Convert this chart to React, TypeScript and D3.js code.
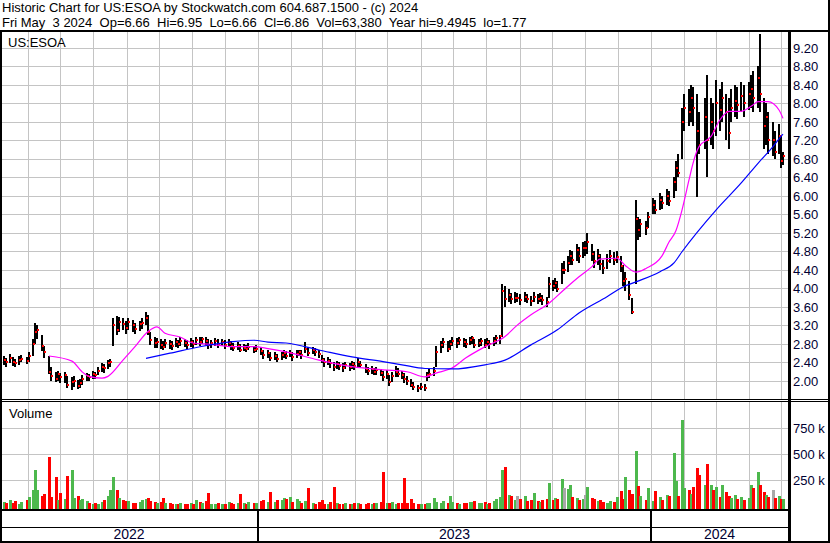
import * as d3 from 'd3';

// bars sampled every second trading day, oldest first (US:ESOA, May 2022 - May 2024)
const HIGH = [
  2.55, 2.5, 2.58, 2.52, 2.48, 2.55, 2.56, 2.52, 2.62, 2.9,
  3.25, 3.2, 3.0, 2.75, 2.55, 2.3, 2.2, 2.22, 2.18, 2.2,
  2.1, 2.08, 2.1, 2.02, 2.05, 2.12, 2.18, 2.16, 2.22, 2.2,
  2.3, 2.38, 2.36, 2.45, 2.48, 3.35, 3.4, 3.38, 3.35, 3.3,
  3.36, 3.32, 3.25, 3.3, 3.35, 3.5, 3.42, 3.05, 2.95, 2.92,
  2.9, 2.86, 2.9, 2.88, 2.86, 2.92, 2.88, 2.94, 2.9, 2.88,
  2.92, 2.88, 2.95, 2.94, 2.96, 2.94, 2.9, 2.88, 2.92, 2.9,
  2.9, 2.88, 2.9, 2.86, 2.82, 2.84, 2.8, 2.8, 2.78, 2.82,
  2.76, 2.78, 2.74, 2.66, 2.68, 2.62, 2.62, 2.58, 2.62, 2.66,
  2.64, 2.68, 2.62, 2.66, 2.68, 2.66, 2.85, 2.74, 2.74, 2.72,
  2.68, 2.56, 2.5, 2.52, 2.48, 2.42, 2.44, 2.42, 2.38, 2.42,
  2.38, 2.44, 2.4, 2.5, 2.44, 2.36, 2.3, 2.32, 2.28, 2.3,
  2.26, 2.22, 2.24, 2.12, 2.2, 2.32, 2.28, 2.22, 2.18, 2.1,
  2.04, 1.98, 1.92, 1.96, 1.94, 2.2, 2.26, 2.3, 2.75, 2.86,
  2.92, 2.86, 2.88, 2.95, 2.92, 2.95, 2.92, 2.9, 2.95, 2.98,
  2.9, 2.9, 2.92, 2.9, 2.92, 2.88, 2.94, 3.0, 3.0, 4.1,
  4.05, 3.98, 3.9, 3.92, 3.9, 3.88, 3.92, 3.88, 3.84, 3.92,
  3.88, 3.9, 3.86, 3.82, 4.25, 4.18, 4.22, 4.15, 4.55, 4.6,
  4.7, 4.83, 4.8, 4.95, 4.9, 5.0, 5.02, 5.2, 4.95, 4.8,
  4.85, 4.75, 4.62, 4.75, 4.82, 4.78, 4.8, 4.7, 4.5, 4.35,
  4.15, 3.8, 5.9, 5.55, 5.5, 5.45, 5.65, 5.95, 5.9, 6.05,
  6.0, 6.15, 6.1, 6.4, 6.75, 6.9, 7.9, 8.2, 8.3, 8.4,
  8.35, 8.2, 7.8, 8.1, 8.6, 8.1, 8.0, 8.5, 8.3, 8.45,
  8.2, 8.1, 8.3, 8.4, 8.35, 8.45, 8.4, 8.45, 8.6, 8.7,
  8.8, 9.49, 8.1, 8.0, 7.8, 7.6, 7.4, 7.55, 7.3, 6.95,
];

const LOW = [
  2.35, 2.3, 2.38, 2.32, 2.3, 2.35, 2.4, 2.36, 2.42, 2.55,
  2.8, 2.9, 2.65, 2.5, 2.15, 2.0, 1.98, 2.0, 1.95, 1.95,
  1.85, 1.8, 1.88, 1.82, 1.85, 1.92, 2.0, 2.0, 2.05, 2.05,
  2.12, 2.2, 2.18, 2.25, 2.3, 2.75, 3.0, 3.05, 3.1, 3.02,
  3.1, 3.05, 3.02, 3.08, 3.12, 3.2, 3.0, 2.78, 2.72, 2.72,
  2.7, 2.66, 2.72, 2.7, 2.68, 2.74, 2.72, 2.76, 2.74, 2.7,
  2.74, 2.72, 2.78, 2.76, 2.8, 2.78, 2.7, 2.72, 2.76, 2.72,
  2.76, 2.7, 2.74, 2.68, 2.64, 2.66, 2.62, 2.64, 2.62, 2.66,
  2.6, 2.62, 2.56, 2.48, 2.5, 2.44, 2.46, 2.4, 2.46, 2.5,
  2.48, 2.52, 2.44, 2.5, 2.54, 2.48, 2.6, 2.55, 2.58, 2.55,
  2.5, 2.38, 2.3, 2.34, 2.28, 2.22, 2.26, 2.24, 2.2, 2.26,
  2.22, 2.26, 2.24, 2.3, 2.28, 2.18, 2.14, 2.16, 2.12, 2.14,
  2.1, 2.0, 2.05, 1.9, 1.98, 2.08, 2.08, 2.04, 1.96, 1.92,
  1.86, 1.8, 1.77, 1.8, 1.78, 2.0, 2.06, 2.1, 2.3, 2.6,
  2.72, 2.62, 2.68, 2.76, 2.72, 2.78, 2.74, 2.72, 2.78, 2.8,
  2.72, 2.74, 2.76, 2.72, 2.76, 2.7, 2.76, 2.8, 2.8, 2.95,
  3.6, 3.7, 3.66, 3.68, 3.7, 3.64, 3.7, 3.68, 3.62, 3.7,
  3.66, 3.7, 3.64, 3.6, 3.8, 3.95, 3.98, 3.92, 4.1, 4.3,
  4.35, 4.5, 4.5, 4.6, 4.55, 4.65, 4.7, 4.75, 4.6, 4.45,
  4.5, 4.4, 4.3, 4.42, 4.55, 4.5, 4.55, 4.35, 4.05, 3.95,
  3.75, 3.45, 4.1, 5.05, 5.1, 5.15, 5.3, 5.6, 5.6, 5.7,
  5.72, 5.8, 5.78, 5.95, 6.1, 6.4, 6.8, 7.4, 7.5, 7.6,
  7.5, 5.97, 6.9, 7.0, 6.4, 7.1, 7.0, 7.3, 7.4, 7.6,
  7.2, 7.0, 7.6, 7.7, 7.65, 7.8, 7.7, 7.85, 7.9, 7.8,
  7.9, 7.8, 7.0, 7.1, 6.9, 6.85, 6.8, 6.9, 6.6, 6.66,
];

const CLOSE = [
  2.45, 2.4, 2.5, 2.42, 2.38, 2.45, 2.48, 2.44, 2.55, 2.8,
  3.05, 3.1, 2.75, 2.62, 2.2, 2.1, 2.05, 2.15, 2.08, 2.12,
  1.92, 1.98, 2.0, 1.9, 1.95, 2.05, 2.1, 2.08, 2.15, 2.12,
  2.22, 2.3, 2.28, 2.38, 2.42, 3.2, 3.1, 3.28, 3.22, 3.15,
  3.28, 3.2, 3.12, 3.22, 3.25, 3.35, 3.05, 2.88, 2.82, 2.85,
  2.78, 2.74, 2.82, 2.8, 2.76, 2.84, 2.8, 2.86, 2.82, 2.78,
  2.84, 2.8, 2.88, 2.84, 2.9, 2.86, 2.78, 2.82, 2.86, 2.8,
  2.84, 2.78, 2.82, 2.76, 2.72, 2.76, 2.68, 2.72, 2.7, 2.74,
  2.66, 2.7, 2.64, 2.56, 2.6, 2.5, 2.54, 2.48, 2.56, 2.6,
  2.55, 2.6, 2.52, 2.58, 2.62, 2.56, 2.7, 2.6, 2.66, 2.62,
  2.58, 2.45, 2.4, 2.44, 2.38, 2.3, 2.36, 2.32, 2.28, 2.34,
  2.3, 2.36, 2.32, 2.4, 2.34, 2.26, 2.22, 2.25, 2.2, 2.24,
  2.18, 2.08, 2.15, 1.98, 2.1, 2.2, 2.16, 2.12, 2.05, 2.0,
  1.92, 1.86, 1.85, 1.88, 1.84, 2.12, 2.16, 2.22, 2.62, 2.78,
  2.84, 2.7, 2.8, 2.86, 2.82, 2.88, 2.84, 2.8, 2.88, 2.92,
  2.78, 2.82, 2.86, 2.78, 2.84, 2.8, 2.86, 2.92, 2.98, 3.95,
  3.78, 3.85, 3.76, 3.8, 3.8, 3.74, 3.82, 3.78, 3.72, 3.82,
  3.76, 3.8, 3.74, 3.7, 4.1, 4.05, 4.12, 3.98, 4.4, 4.4,
  4.55, 4.7, 4.62, 4.82, 4.7, 4.88, 4.88, 5.0, 4.75, 4.6,
  4.7, 4.52, 4.45, 4.6, 4.7, 4.62, 4.68, 4.48, 4.15, 4.2,
  3.85, 3.5, 5.5, 5.25, 5.4, 5.3, 5.55, 5.8, 5.7, 5.9,
  5.85, 6.0, 5.88, 6.3, 6.6, 6.5, 7.6, 7.9, 7.8, 8.1,
  7.9, 7.4, 7.1, 7.7, 7.2, 7.6, 7.4, 8.0, 7.85, 8.1,
  7.8, 7.35, 7.9, 8.05, 7.95, 8.15, 8.0, 8.2, 8.3, 8.1,
  8.55, 8.2, 7.5, 7.7, 7.2, 7.2, 6.95, 7.3, 6.75, 6.86,
];

// thousands of shares
const VOLUME = [
  40, 30, 55, 25, 45, 20, 35, 60, 90, 150,
  346, 154, 100, 120, 474, 90, 282, 60, 125, 70,
  288, 346, 80, 95, 60, 70, 45, 30, 20, 25,
  20, 40, 55, 100, 150, 282, 154, 80, 60, 45,
  50, 30, 25, 35, 60, 70, 80, 50, 35, 30,
  40, 75, 30, 25, 20, 15, 20, 30, 15, 20,
  25, 20, 60, 40, 30, 50, 128, 20, 15, 30,
  20, 15, 40, 25, 20, 30, 117, 25, 20, 40,
  25, 30, 50, 60, 35, 138, 40, 55, 60, 80,
  70, 85, 40, 65, 50, 30, 45, 176, 25, 20,
  35, 60, 20, 15, 40, 186, 30, 20, 15, 25,
  20, 15, 25, 30, 20, 15, 25, 20, 30, 25,
  35, 330, 30, 25, 35, 20, 30, 25, 272, 30,
  70, 25, 20, 15, 20, 25, 30, 75, 40, 30,
  50, 30, 100, 40, 25, 20, 30, 25, 40, 35,
  45, 30, 25, 40, 20, 30, 50, 70, 90, 346,
  378, 104, 100, 60, 100, 70, 100, 45, 60, 128,
  50, 40, 60, 70, 221, 60, 80, 70, 260, 175,
  160, 200, 90, 80, 60, 70, 110, 180, 80, 70,
  50, 60, 40, 30, 50, 40, 90, 140, 70, 282,
  150, 120, 532, 195, 100, 60, 173, 50, 140, 90,
  60, 110, 100, 506, 240, 100, 827, 170, 150, 120,
  180, 368, 296, 205, 404, 200, 150, 180, 90, 200,
  130, 100, 80, 110, 70, 90, 60, 80, 200, 170,
  324, 200, 135, 110, 90, 150, 80, 100, 70, 63,
];

// moving averages: [bar index, value]
const FAST_MA: [number, number][] = [
  [14, 2.54], [21, 2.43], [25, 2.2], [27, 2.1], [31, 2.06], [33, 2.1], [38, 2.45],
  [42, 2.74], [46, 3.07], [49, 3.17], [52, 3.03], [57, 2.95], [61, 2.82], [67, 2.79],
  [74, 2.74], [80, 2.74], [84, 2.7], [90, 2.63], [100, 2.45], [111, 2.31], [121, 2.24],
  [129, 2.2], [134, 2.09], [138, 2.17], [143, 2.28], [147, 2.5], [153, 2.74], [160, 2.96],
  [164, 3.2], [168, 3.43], [174, 3.68], [179, 3.97], [184, 4.25], [188, 4.47], [191, 4.63],
  [196, 4.65], [199, 4.5], [202, 4.35], [205, 4.43], [210, 4.7], [212, 5.0], [214, 5.25],
  [216, 5.69], [218, 6.34], [220, 6.7], [222, 7.06], [225, 7.28], [228, 7.64], [231, 7.82],
  [235, 7.82], [237, 7.9], [239, 7.96], [240, 8.03], [244, 8.03], [247, 7.85], [249, 7.67],
];

const SLOW_MA: [number, number][] = [
  [45, 2.49], [53, 2.6], [63, 2.74], [74, 2.85], [80, 2.88], [84, 2.84], [90, 2.82],
  [100, 2.67], [111, 2.52], [121, 2.42], [127, 2.35], [134, 2.27], [143, 2.26], [153, 2.35],
  [160, 2.45], [168, 2.78], [177, 3.1], [184, 3.47], [193, 3.82], [198, 4.03], [202, 4.14],
  [209, 4.36], [213, 4.55], [216, 4.79], [227, 5.69], [235, 6.27], [240, 6.7], [245, 7.06],
  [248, 7.28], [249, 7.33],
];

const HOLIDAYS = [
  '2022-05-30', '2022-06-20', '2022-07-04', '2022-09-05', '2022-11-24', '2022-12-26',
  '2023-01-02', '2023-01-16', '2023-02-20', '2023-04-07', '2023-05-29', '2023-06-19',
  '2023-07-04', '2023-09-04', '2023-11-23', '2023-12-25',
  '2024-01-01', '2024-01-15', '2024-02-19', '2024-03-29',
];

const PRICE_TICKS = [2.0, 2.4, 2.8, 3.2, 3.6, 4.0, 4.4, 4.8, 5.2, 5.6, 6.0, 6.4, 6.8, 7.2, 7.6, 8.0, 8.4, 8.8, 9.2];
const VOLUME_TICKS = [250, 500, 750];
const YEARS = ['2022', '2023', '2024'];

const TITLE = 'Historic Chart for US:ESOA by Stockwatch.com 604.687.1500 - (c) 2024';
const SUBTITLE = 'Fri May  3 2024  Op=6.66  Hi=6.95  Lo=6.66  Cl=6.86  Vol=63,380  Year hi=9.4945  lo=1.77';

const FONT = '"Liberation Sans", Arial, sans-serif';
const W = 830;
const H = 543;
const PLOT_R = 788;
const PRICE_TOP = 32;
const PRICE_BOTTOM = 399;
const VOL_TOP = 402;
const VOL_BOTTOM = 509;
const GRID = '#c4c4c4';
const GREEN = '#4db84d';
const RED = '#ff0000';
const GREY = '#a8a8a8';
const AXIS_TEXT = '#000033';

const utc = (y: number, m: number, d: number) => new Date(Date.UTC(y, m, d));

function tradingDays(): Date[] {
  const off = new Set(HOLIDAYS);
  const fmt = d3.utcFormat('%Y-%m-%d');
  return d3.utcDay
    .range(utc(2022, 4, 9), utc(2024, 4, 4))
    .filter((d) => d.getUTCDay() > 0 && d.getUTCDay() < 6 && !off.has(fmt(d)));
}

export default function App() {
  const n = CLOSE.length;
  const days = tradingDays();
  const dates = days.filter((_, i) => (days.length - 1 - i) % 2 === 0).slice(-n);

  const x = d3.scaleUtc().domain([utc(2023, 0, 1), utc(2024, 0, 1)]).range([258, 651]);
  const y = d3.scaleLinear().domain([2, 9.2]).range([381, 47.5]);
  const yv = d3.scaleLinear().domain([0, 750]).range([506, 428]);
  const bx = (i: number) => Math.round(x(dates[i]));

  const monthLines = d3.utcMonth
    .range(utc(2022, 5, 1), utc(2024, 5, 1))
    .map((d) => Math.round(x(d)) + 0.5)
    .filter((v) => v > 2 && v < PLOT_R);
  const yearEdges = [0, x(utc(2023, 0, 1)), x(utc(2024, 0, 1)), PLOT_R];

  const maLine = d3
    .line<[number, number]>()
    .x((d) => bx(d[0]))
    .y((d) => y(d[1]))
    .curve(d3.curveMonotoneX);

  const volColor = (i: number) => {
    if (i === 0 || CLOSE[i] > CLOSE[i - 1]) return GREEN;
    if (CLOSE[i] < CLOSE[i - 1]) return RED;
    return GREY;
  };

  return (
    <>
      <style>{'body{margin:0}'}</style>
      <svg width={W} height={H} style={{ display: 'block', background: '#fff' }} fontFamily={FONT}>
        <defs>
          <clipPath id="price-clip">
            <rect x={2} y={PRICE_TOP} width={PLOT_R - 2} height={PRICE_BOTTOM - PRICE_TOP} />
          </clipPath>
        </defs>
        <rect width={W} height={H} fill="#fff" />

        {/* header */}
        <text x={2} y={12} fontSize={13} fill="#000">{TITLE}</text>
        <text x={2} y={26.5} fontSize={13} fill="#000" xmlSpace="preserve" style={{ whiteSpace: 'pre' }}>
          {SUBTITLE}
        </text>

        {/* grid */}
        <g stroke={GRID} strokeWidth={1} shapeRendering="crispEdges">
          {monthLines.map((mx) => (
            <g key={mx}>
              <line x1={mx} x2={mx} y1={PRICE_TOP} y2={PRICE_BOTTOM} />
              <line x1={mx} x2={mx} y1={VOL_TOP} y2={VOL_BOTTOM} />
            </g>
          ))}
          {PRICE_TICKS.map((t) => (
            <line key={t} x1={2} x2={PLOT_R} y1={Math.round(y(t)) + 0.5} y2={Math.round(y(t)) + 0.5} />
          ))}
          {VOLUME_TICKS.map((t) => (
            <line key={t} x1={2} x2={PLOT_R} y1={Math.round(yv(t)) + 0.5} y2={Math.round(yv(t)) + 0.5} />
          ))}
        </g>

        {/* volume */}
        <g shapeRendering="crispEdges">
          {VOLUME.map((v, i) => {
            const top = Math.round(yv(v));
            return (
              <rect key={i} x={bx(i) - 1} y={top} width={3} height={VOL_BOTTOM - top} fill={volColor(i)} />
            );
          })}
        </g>

        {/* price bars */}
        <g clipPath="url(#price-clip)" shapeRendering="crispEdges">
          {CLOSE.map((c, i) => {
            const top = Math.round(y(HIGH[i]));
            const bot = Math.round(y(LOW[i]));
            return <rect key={i} x={bx(i) - 1} y={top} width={2} height={Math.max(1, bot - top)} fill="#000" />;
          })}
          {CLOSE.map((c, i) => (
            <rect key={'c' + i} x={bx(i)} y={Math.round(y(c)) - 1} width={2} height={2} fill={RED} />
          ))}
        </g>
        <g clipPath="url(#price-clip)" fill="none" strokeWidth={1.2}>
          <path d={maLine(FAST_MA) ?? ''} stroke="#ff00ff" />
          <path d={maLine(SLOW_MA) ?? ''} stroke="#0000ff" />
        </g>

        {/* frame */}
        <g fill="#000" shapeRendering="crispEdges">
          <rect x={0} y={30} width={W} height={2} />
          <rect x={0} y={30} width={2} height={H - 30} />
          <rect x={PLOT_R} y={30} width={3} height={H - 30} />
          <rect x={W - 2} y={0} width={2} height={H} />
          <rect x={0} y={PRICE_BOTTOM} width={W} height={1} />
          <rect x={0} y={PRICE_BOTTOM + 2} width={W} height={1} />
          <rect x={0} y={VOL_BOTTOM} width={PLOT_R} height={2} />
          <rect x={0} y={527} width={PLOT_R} height={1} />
          <rect x={0} y={H - 2} width={W} height={2} />
          {yearEdges.slice(1, 3).map((e) => (
            <rect key={e} x={Math.round(e) - 1} y={VOL_BOTTOM} width={2} height={H - VOL_BOTTOM} />
          ))}
        </g>

        {/* labels */}
        <text x={8} y={46.5} fontSize={13} fill="#000">US:ESOA</text>
        <text x={9} y={418} fontSize={13} fill="#000">Volume</text>
        {PRICE_TICKS.map((t) => (
          <text key={t} x={793} y={y(t) + 5} fontSize={13} fill={AXIS_TEXT}>{t.toFixed(2)}</text>
        ))}
        {VOLUME_TICKS.map((t) => (
          <text key={t} x={793} y={yv(t) + 5} fontSize={13} fill={AXIS_TEXT}>{`${t} k`}</text>
        ))}
        {YEARS.map((yr, i) => (
          <text key={yr} x={(yearEdges[i] + yearEdges[i + 1]) / 2} y={539} fontSize={14} textAnchor="middle" fill={AXIS_TEXT}>
            {yr}
          </text>
        ))}
      </svg>
    </>
  );
}
